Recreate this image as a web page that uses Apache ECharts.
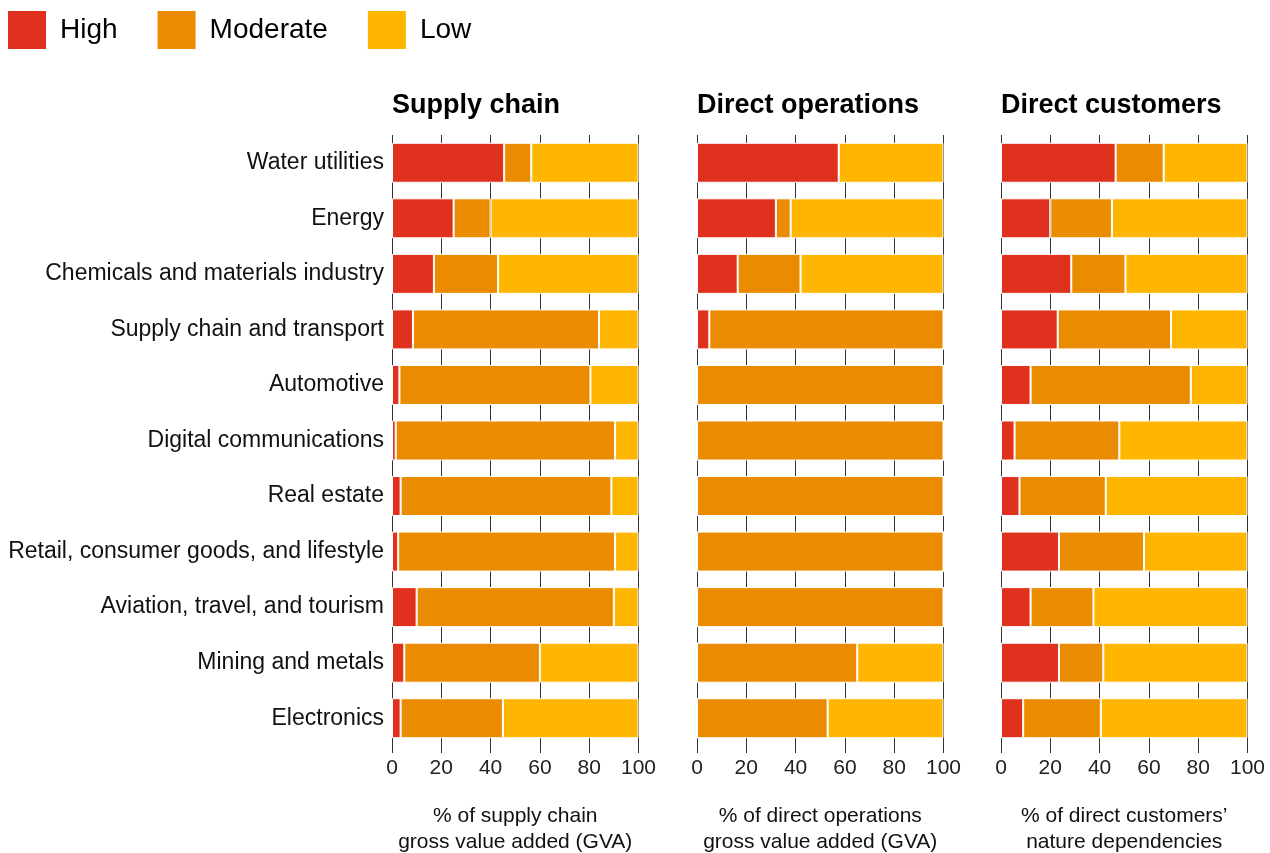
<!DOCTYPE html>
<html>
<head>
<meta charset="utf-8">
<script src="https://cdn.jsdelivr.net/npm/echarts@6/dist/echarts.min.js"></script>
<style>
  html, body { margin: 0; padding: 0; background: #fff; }
  #chart { width: 1270px; height: 853px; }
</style>
</head>
<body>
<div id="chart"></div>
<script>
  // categories, top to bottom
  var categories = ['Water utilities', 'Energy', 'Chemicals and materials industry', 'Supply chain and transport',
    'Automotive', 'Digital communications', 'Real estate', 'Retail, consumer goods, and lifestyle',
    'Aviation, travel, and tourism', 'Mining and metals', 'Electronics']
  var levels = ['High', 'Moderate', 'Low']
  var panelTitles = ['Supply chain', 'Direct operations', 'Direct customers']
  var axisNames = ['% of supply chain\ngross value added (GVA)', '% of direct operations\ngross value added (GVA)', '% of direct customers\u2019\nnature dependencies']

  // supply chain
  var supplyHigh = [45.5, 25, 17, 8.5, 3, 1.5, 3.5, 2.5, 10, 5, 3.5]
  var supplyModerate = [11, 15, 26, 75.5, 77.5, 89, 85.5, 88, 80, 55, 41.5]
  var supplyLow = [43.5, 60, 57, 16, 19.5, 9.5, 11, 9.5, 10, 40, 55]
  // direct operations
  var operationsHigh = [57.5, 32, 16.5, 5, 0, 0, 0, 0, 0, 0, 0]
  var operationsModerate = [0, 6, 25.5, 95, 100, 100, 100, 100, 100, 65, 53]
  var operationsLow = [42.5, 62, 58, 0, 0, 0, 0, 0, 0, 35, 47]
  // direct customers
  var customersHigh = [46.5, 20, 28.5, 23, 12, 5.5, 7.5, 23.5, 12, 23.5, 9]
  var customersModerate = [19.5, 25, 22, 46, 65, 42.5, 35, 34.5, 25.5, 18, 31.5]
  var customersLow = [34, 55, 49.5, 31, 23, 52, 57.5, 42, 62.5, 58.5, 59.5]

  var panels = [
    [supplyHigh, supplyModerate, supplyLow],
    [operationsHigh, operationsModerate, operationsLow],
    [customersHigh, customersModerate, customersLow]
  ]
  var colors = ['#E0301E', '#EB8C00', '#FFB600']
  var gridLefts = [392, 697, 1001]
  var font = 'Liberation Sans, Arial, sans-serif'

  var grids = []
  var xAxes = []
  var yAxes = []
  var series = []
  var titles = []

  panels.forEach(function (panel, p) {
    grids.push({ left: gridLefts[p], width: 246.5, top: 135, height: 611, outerBoundsMode: 'none' })
    titles.push({
      text: panelTitles[p],
      left: gridLefts[p],
      top: 92,
      padding: 0,
      textStyle: { fontFamily: font, fontSize: 27, fontWeight: 'bold', color: '#000' }
    })
    xAxes.push({
      type: 'value',
      gridIndex: p,
      min: 0,
      max: 100,
      interval: 20,
      axisLine: { show: false },
      axisTick: { show: true, length: 7, lineStyle: { color: '#333' } },
      axisLabel: { fontFamily: font, fontSize: 21, color: '#222', margin: 12 },
      splitLine: { show: true, lineStyle: { color: '#333', width: 1 } },
      name: axisNames[p],
      nameLocation: 'middle',
      nameGap: 57,
      nameTextStyle: { fontFamily: font, fontSize: 21, color: '#111', lineHeight: 26, verticalAlign: 'top' }
    })
    yAxes.push({
      type: 'category',
      gridIndex: p,
      data: categories,
      inverse: true,
      axisLine: { show: false },
      axisTick: { show: false },
      axisLabel: { show: p === 0, fontFamily: font, fontSize: 23, color: '#111', margin: 8 }
    })
    panel.forEach(function (values, i) {
      series.push({
        name: levels[i],
        type: 'bar',
        stack: 'panel' + p,
        xAxisIndex: p,
        yAxisIndex: p,
        barWidth: 40,
        itemStyle: { color: colors[i], borderColor: '#fff', borderWidth: 1 },
        data: values
      })
    })
  })

  var chart = echarts.init(document.getElementById('chart'))
  chart.setOption({
    animation: false,
    title: titles,
    legend: {
      data: levels,
      left: 8,
      top: 11,
      padding: 0,
      itemWidth: 38,
      itemHeight: 38,
      itemGap: 40,
      icon: 'rect',
      itemStyle: { borderWidth: 0 },
      textStyle: { fontFamily: font, fontSize: 28, color: '#000', padding: [4, 0, 0, 9] }
    },
    grid: grids,
    xAxis: xAxes,
    yAxis: yAxes,
    series: series
  })
</script>
</body>
</html>
